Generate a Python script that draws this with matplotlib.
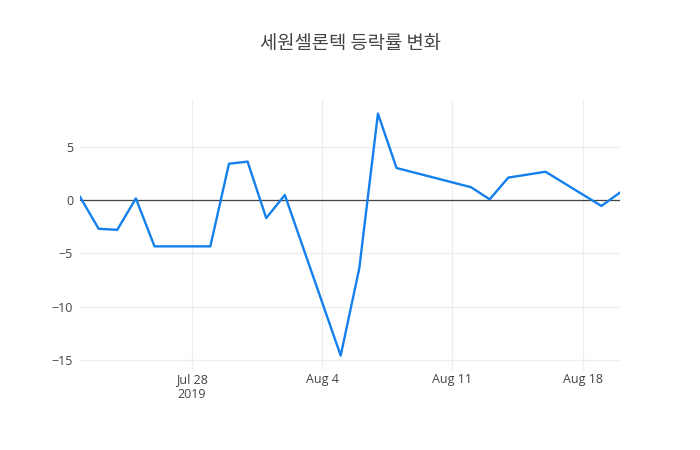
import matplotlib.pyplot as plt
import pandas as pd

plt.rcParams['font.family'] = ['Open Sans', 'Noto Sans CJK KR', 'DejaVu Sans']

dates = ['2019-07-22', '2019-07-23', '2019-07-24', '2019-07-25', '2019-07-26',
         '2019-07-29', '2019-07-30', '2019-07-31', '2019-08-01', '2019-08-02',
         '2019-08-05', '2019-08-06', '2019-08-07', '2019-08-08', '2019-08-12',
         '2019-08-13', '2019-08-14', '2019-08-16', '2019-08-19', '2019-08-20']
rates = [0.3, -2.7, -2.8, 0.15, -4.35,
         -4.35, 3.4, 3.6, -1.7, 0.47,
         -14.6, -6.4, 8.1, 3.0, 1.2,
         0.06, 2.1, 2.65, -0.56, 0.7]
xticks = ['2019-07-28', '2019-08-04', '2019-08-11', '2019-08-18']
xticklabels = ['Jul 28\n2019', 'Aug 4', 'Aug 11', 'Aug 18']
yticks = [-15, -10, -5, 0, 5]

x = pd.to_datetime(dates)

fig = plt.figure(figsize=(7, 4.5), dpi=100)
ax = fig.add_axes([80 / 700, 80 / 450, 540 / 700, 270 / 450])

ax.plot(x, rates, color='#1480ee', lw=1.7, zorder=3)
ax.axhline(0, color='#444444', lw=0.9, zorder=2)

ax.set_xlim(x[0], x[-1])
ax.set_ylim(-15.95, 9.38)
ax.set_xticks(pd.to_datetime(xticks))
ax.set_xticklabels(xticklabels)
ax.set_yticks(yticks)
ax.set_yticklabels(['\u2212' + str(-v) if v < 0 else str(v) for v in yticks])

ax.grid(True, color='#eeeeee', lw=0.9, zorder=0)
ax.set_axisbelow(True)
for s in ax.spines.values():
    s.set_visible(False)
ax.tick_params(length=0, labelsize=9, labelcolor='#444444')
ax.tick_params(axis='x', pad=2.5)
ax.tick_params(axis='y', pad=5)
for lab in ax.get_xticklabels():
    lab.set_linespacing(1.2)

fig.text(0.5, 1 - 43 / 450, '세원셀론텍 등락률 변화', ha='center', va='center',
         fontsize=13.5, color='#444444', family=['Noto Sans CJK KR', 'DejaVu Sans'])

fig.savefig('out.png', dpi=100, facecolor='white')
